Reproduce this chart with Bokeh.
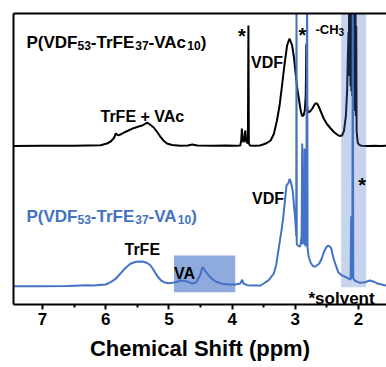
from bokeh.plotting import figure
from bokeh.models import Range1d, LinearAxis, FixedTicker, Label
from bokeh.embed import file_html
from bokeh.resources import INLINE

# ---------------- data ----------------
# top spectrum: P(VDF53-TrFE37-VAc10), relative intensity above its baseline
black_ppm = [7.46, 7.00, 6.50, 6.08, 5.98, 5.92, 5.87, 5.84, 5.81, 5.79, 5.75, 5.71, 5.64, 5.56,
             5.48, 5.42, 5.37, 5.34, 5.30, 5.24, 5.18, 5.13, 5.08, 5.03, 4.95, 4.82, 4.70, 4.63,
             4.55, 4.30, 4.10, 3.95, 3.87, 3.855, 3.845, 3.835, 3.82, 3.81, 3.80, 3.79, 3.78,
             3.765, 3.75, 3.742, 3.735, 3.72, 3.65, 3.56, 3.50, 3.45, 3.39, 3.34, 3.29, 3.25,
             3.21, 3.17, 3.13, 3.10, 3.09, 3.07, 3.05, 3.02, 3.00, 2.97, 2.94, 2.91, 2.89, 2.87,
             2.85, 2.835, 2.825, 2.815, 2.80, 2.79, 2.76, 2.73, 2.70, 2.68, 2.65, 2.63, 2.59,
             2.55, 2.50, 2.44, 2.39, 2.34, 2.30, 2.26, 2.23, 2.20, 2.18, 2.17, 2.158, 2.152,
             2.145, 2.140, 2.133, 2.127, 2.120, 2.113, 2.106, 2.099, 2.092, 2.085, 2.078, 2.071,
             2.064, 2.057, 2.050, 2.043, 2.036, 2.030, 2.020, 2.010, 2.000, 1.97, 1.94, 1.85,
             1.75, 1.65, 1.557]
black_int = [0.0, 0.3, 0.2, 0.8, 2.5, 4.5, 8.0, 12.5, 11.0, 10.8, 12.0, 13.5, 15.5, 17.8,
             19.5, 20.5, 22.5, 23.2, 21.5, 18.5, 13.5, 8.8, 5.0, 2.5, 1.0, 0.3, 0.5, 1.5,
             0.5, 0.3, 0.5, 0.3, 0.5, 6.0, 17.5, 6.0, 4.0, 5.5, 12.0, 15.5, 5.0,
             3.5, 3.0, 120.5, 3.0, 0.5, 0.3, 0.5, 1.8, 3.0, 5.5, 12.0, 25.5, 40.0,
             60.5, 82.0, 100.5, 106.0, 107.2, 104.0, 100.5, 88.0, 75.5, 58.0, 45.5, 34.0, 29.8, 30.5,
             35.5, 50.0, 102.2, 40.5, 34.0, 33.5, 35.0, 37.5, 41.0, 42.8, 42.0, 39.5, 33.5,
             27.5, 22.0, 17.5, 14.0, 11.5, 10.0, 10.5, 15.0, 30.0, 55.0, 85.0, 113.8, 70.0,
             250.0, 75.0, 250.0, 60.0, 250.0, 55.0, 250.0, 50.0, 250.0, 45.0, 250.0, 40.0,
             250.0, 35.0, 250.0, 30.0, 120.0, 15.0, 8.0, 3.0, 2.0, 0.5, 0.3, 0.0,
             0.3, 0.0, 0.2]

# bottom spectrum: P(VDF53-TrFE37-VA10), relative intensity above its baseline
blue_ppm = [7.46, 7.00, 6.60, 6.30, 6.20, 6.00, 5.92, 5.85, 5.77, 5.70, 5.61, 5.52, 5.42, 5.35,
            5.29, 5.24, 5.19, 5.13, 5.08, 5.00, 4.92, 4.87, 4.82, 4.76, 4.71, 4.63, 4.58, 4.55,
            4.50, 4.47, 4.45, 4.41, 4.37, 4.31, 4.26, 4.16, 4.05, 3.95, 3.87, 3.84, 3.82, 3.76,
            3.65, 3.55, 3.50, 3.42, 3.34, 3.30, 3.26, 3.22, 3.19, 3.16, 3.14, 3.11, 3.09, 3.07,
            3.055, 3.04, 3.02, 3.00, 2.99, 2.985, 2.981, 2.977, 2.95, 2.92, 2.90, 2.891, 2.883,
            2.865, 2.855, 2.848, 2.83, 2.812, 2.806, 2.79, 2.76, 2.72, 2.68, 2.62, 2.58, 2.55,
            2.51, 2.48, 2.46, 2.43, 2.40, 2.36, 2.32, 2.27, 2.22, 2.15, 2.125, 2.116, 2.108,
            2.098, 2.090, 2.083, 2.06, 2.02, 1.98, 1.90, 1.82, 1.76, 1.71, 1.62, 1.557]
blue_int = [0.0, 0.0, 0.3, 1.0, 0.7, 1.7, 4.0, 7.0, 12.4, 17.5, 22.4, 24.5, 24.7, 23.5,
            20.7, 16.0, 10.7, 6.0, 4.0, 3.0, 3.7, 4.5, 5.7, 5.5, 4.7, 2.7, 3.2, 5.7,
            12.0, 19.0, 17.7, 14.0, 10.7, 7.0, 4.7, 2.4, 1.8, 1.7, 2.7, 6.4, 2.7, 1.0,
            0.8, 0.7, 2.7, 6.0, 12.7, 22.0, 39.0, 55.0, 69.0, 88.0, 100.7, 103.0, 107.4, 104.0,
            100.0, 95.0, 80.0, 66.0, 56.0, 50.0, 300.0, 42.0, 40.0, 40.0, 50.0, 142.7, 42.0,
            45.0, 137.7, 42.0, 40.0, 300.0, 38.0, 30.0, 24.0, 20.0, 19.7, 22.7, 28.0, 33.7,
            39.0, 40.7, 40.0, 37.7, 29.0, 21.0, 14.0, 11.0, 9.7, 7.4, 6.5, 70.0, 8.0,
            9.0, 300.0, 8.0, 5.7, 4.5, 3.4, 4.0, 5.7, 4.5, 3.0, 1.5, 0.7]

tick_values = [2, 3, 4, 5, 6, 7]
minor_tick_values = [1.5, 2.5, 3.5, 4.5, 5.5, 6.5, 7.5]

# highlighted regions (ppm)
va_box = (4.92, 3.95)
solvent_box = (2.274, 1.878)

# ---------------- layout / style ----------------
X0, X1 = 7.459, 1.557
FRAME_L, FRAME_T, FRAME_B = 13, 13, 304
PX_PER_PPM = 63.2
BLACK_OFFSET = 158.5
BLUE_OFFSET = 18.3
BLUE = "#4472c4"
FONT = "Liberation Sans"


def px2x(px):
    return X0 - (px - FRAME_L) / PX_PER_PPM


def px2y(py):
    return FRAME_B - py


p = figure(width=386, height=367, x_range=Range1d(X0, X1), y_range=Range1d(0, FRAME_B - FRAME_T),
           output_backend="svg", toolbar_location=None, y_axis_location=None,
           min_border_left=FRAME_L, min_border_top=FRAME_T, min_border_right=0,
           min_border_bottom=367 - FRAME_B)
p.grid.visible = False
p.outline_line_color = None
p.background_fill_color = "white"
p.border_fill_color = "white"

xa = p.xaxis[0]
xa.ticker = FixedTicker(ticks=tick_values, minor_ticks=minor_tick_values)
xa.axis_line_width = 2
xa.major_tick_line_width = 2
xa.minor_tick_line_width = 2
xa.major_tick_out = 5
xa.major_tick_in = 0
xa.minor_tick_out = 3
xa.minor_tick_in = 0
xa.major_label_text_font = FONT
xa.major_label_text_font_style = "bold"
xa.major_label_text_font_size = "17px"
xa.major_label_text_color = "black"
xa.major_label_standoff = 3
xa.axis_label = "Chemical Shift (ppm)"
xa.axis_label_text_font = FONT
xa.axis_label_text_font_style = "bold"
xa.axis_label_text_font_size = "22px"
xa.axis_label_text_color = "black"
xa.axis_label_standoff = 8

for loc in ("left", "above"):
    ax = LinearAxis(ticker=FixedTicker(ticks=[]), axis_line_width=2, major_tick_out=0,
                    major_tick_in=0, minor_tick_out=0, minor_tick_in=0,
                    major_label_text_font_size="0px", major_label_standoff=0)
    p.add_layout(ax, loc)

# spectra
p.line(black_ppm, [v + BLACK_OFFSET for v in black_int], line_color="black", line_width=2)
p.line(blue_ppm, [v + BLUE_OFFSET for v in blue_int], line_color=BLUE, line_width=2)

# shaded boxes
p.quad(left=[solvent_box[0]], right=[solvent_box[1]], bottom=[px2y(286.7)], top=[400],
       fill_color=BLUE, fill_alpha=0.3, line_color=None)
p.quad(left=[va_box[0]], right=[va_box[1]], bottom=[px2y(291.7)], top=[px2y(255)],
       fill_color=BLUE, fill_alpha=0.6, line_color=None)

# ---------------- texts ----------------
W = {' ': 278, '(': 333, ')': 333, '*': 389, '+': 584, '-': 333,
     'A': 722, 'C': 722, 'D': 722, 'E': 667, 'F': 611, 'H': 722, 'P': 667, 'S': 667,
     'T': 611, 'V': 667, 'a': 556, 'c': 556, 'e': 556, 'r': 389}


def width(txt, size):
    return sum(W.get(ch, 556) for ch in txt) * size / 1000.0


def lab(txt, px, py, size, color="black", align="left"):
    p.add_layout(Label(x=px2x(px), y=px2y(py), text=txt, text_font=FONT,
                       text_font_style="bold", text_font_size=f"{size}px",
                       text_color=color, text_align=align, text_baseline="alphabetic"))


def rich(parts, px, py, size, sub_size, sub_drop, color="black"):
    x = px
    for i, part in enumerate(parts):
        if i % 2 == 0:
            lab(part, x, py, size, color)
            x += width(part, size)
        else:
            lab(part, x, py + sub_drop, sub_size, color)
            x += width(part, sub_size)


rich(["P(VDF", "53", "-TrFE", "37", "-VAc", "10", ")"], 26.0, 42, 17, 12, 3.3)
rich(["P(VDF", "53", "-TrFE", "37", "-VA", "10", ")"], 26.0, 215.7, 17, 12, 3.3, color=BLUE)
rich(["-CH", "3"], 315, 29, 13, 10, 2.5)

lab("TrFE + VAc", 100, 115.7, 16)
lab("VDF", 250.5, 61.7, 16)
lab("VDF", 251.5, 197.7, 16)
lab("TrFE", 124, 249.3, 16)
lab("VA", 173.5, 272.7, 16)
lab("*solvent", 308, 298.3, 17)
lab("*", 241.3, 35, 20, align="center")
lab("*", 301.8, 34.7, 20, align="center")
lab("*", 361.7, 184, 20, align="center")

open("out.html", "w").write(file_html(p, INLINE))
